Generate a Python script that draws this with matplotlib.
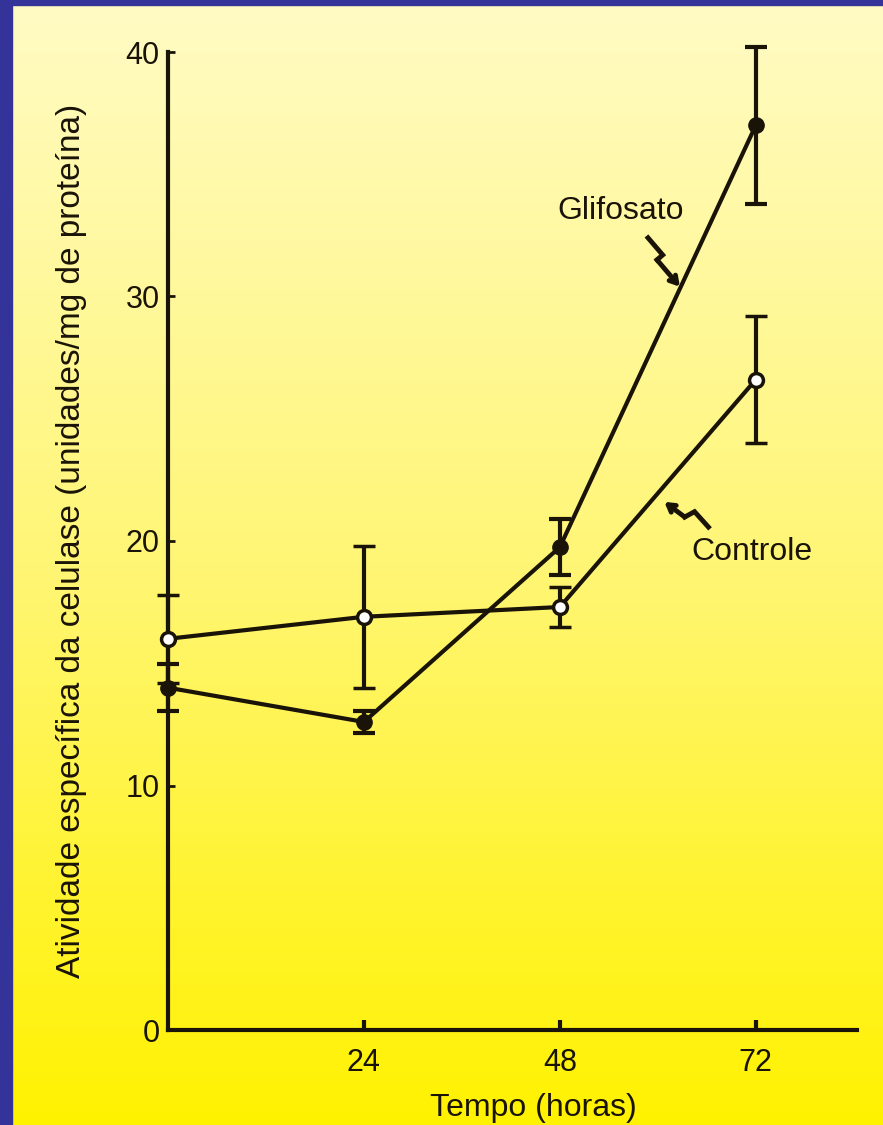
import matplotlib
matplotlib.use("Agg")
import matplotlib.pyplot as plt
import numpy as np
from matplotlib.colors import LinearSegmentedColormap

plt.rcParams['font.family'] = ['Liberation Sans', 'DejaVu Sans']

# data
horas = [0, 24, 48, 72]
controle = [16.0, 16.9, 17.3, 26.6]
controle_err = [1.8, 2.9, 0.8, 2.6]
glifosato = [14.0, 12.6, 19.75, 37.0]
glifosato_err = [0.95, 0.45, 1.15, 3.2]

x_ticks = [24, 48, 72]
y_ticks = [0, 10, 20, 30, 40]

ink = '#1a1408'

fig = plt.figure(figsize=(8.83, 11.25), dpi=100)

# yellow gradient background
bg = fig.add_axes([0, 0, 1, 1], zorder=-10)
grad = np.linspace(0, 1, 256).reshape(-1, 1)
cmap = LinearSegmentedColormap.from_list('yel', ['#fffbc4', '#fff676', '#fff200'])
bg.imshow(grad, aspect='auto', cmap=cmap, extent=[0, 1, 0, 1], origin='upper')
# blue frame on the left and top
bg.axvspan(0, 12 / 883, color='#333399')
bg.axhspan(1 - 5 / 1125, 1, color='#333399')
bg.set_xlim(0, 1)
bg.set_ylim(0, 1)
bg.axis('off')

ax = fig.add_axes([168 / 883, 1 - 1030 / 1125, (857 - 168) / 883, (1030 - 52) / 1125])
ax.patch.set_alpha(0)

ax.errorbar(horas, glifosato, yerr=glifosato_err, color=ink, lw=3,
            marker='o', ms=11, mfc=ink, mec=ink,
            capsize=8, capthick=3, elinewidth=3, clip_on=False, zorder=3)
ax.errorbar(horas, controle, yerr=controle_err, color=ink, lw=3,
            marker='o', ms=10, mfc='white', mec=ink, mew=2.5,
            capsize=8, capthick=3, elinewidth=3, clip_on=False, zorder=4)

ax.set_xlim(0, 84.4)
ax.set_ylim(0, 40)
ax.set_xticks(x_ticks)
ax.set_yticks(y_ticks)
ax.tick_params(axis='x', direction='in', length=7, width=3, pad=13,
               labelsize=22, colors=ink)
ax.tick_params(axis='y', direction='in', length=5, width=2, pad=6,
               labelsize=22, colors=ink)

for s in ['top', 'right']:
    ax.spines[s].set_visible(False)
for s in ['left', 'bottom']:
    ax.spines[s].set_linewidth(3)
    ax.spines[s].set_color(ink)

ax.set_xlabel('Tempo (horas)', fontsize=23, color=ink)
ax.xaxis.set_label_coords(0.53, -0.064)
ax.set_ylabel('Atividade específica da celulase (unidades/mg de proteína)',
              fontsize=24, color=ink)
ax.yaxis.set_label_coords(-0.118, 0.5)

# labels with zigzag arrows
ax.text(55.5, 33.5, 'Glifosato', fontsize=23, ha='center', va='center', color=ink)
ax.plot([58.8, 60.6, 59.9], [32.4, 31.7, 31.5], color=ink, lw=3.5,
        solid_joinstyle='miter')
ax.annotate('', xy=(62.7, 30.4), xytext=(59.9, 31.5),
            arrowprops=dict(arrowstyle='->,head_length=0.5,head_width=0.3',
                            color=ink, lw=3.5, shrinkA=0, shrinkB=0))

ax.text(71.5, 19.55, 'Controle', fontsize=23, ha='center', va='center', color=ink)
ax.plot([66.2, 64.5, 63.3], [20.57, 21.2, 20.98], color=ink, lw=3.5,
        solid_joinstyle='miter')
ax.annotate('', xy=(60.8, 21.6), xytext=(63.3, 20.98),
            arrowprops=dict(arrowstyle='->,head_length=0.5,head_width=0.3',
                            color=ink, lw=3.5, shrinkA=0, shrinkB=0))

fig.savefig('out.png', dpi=100)
